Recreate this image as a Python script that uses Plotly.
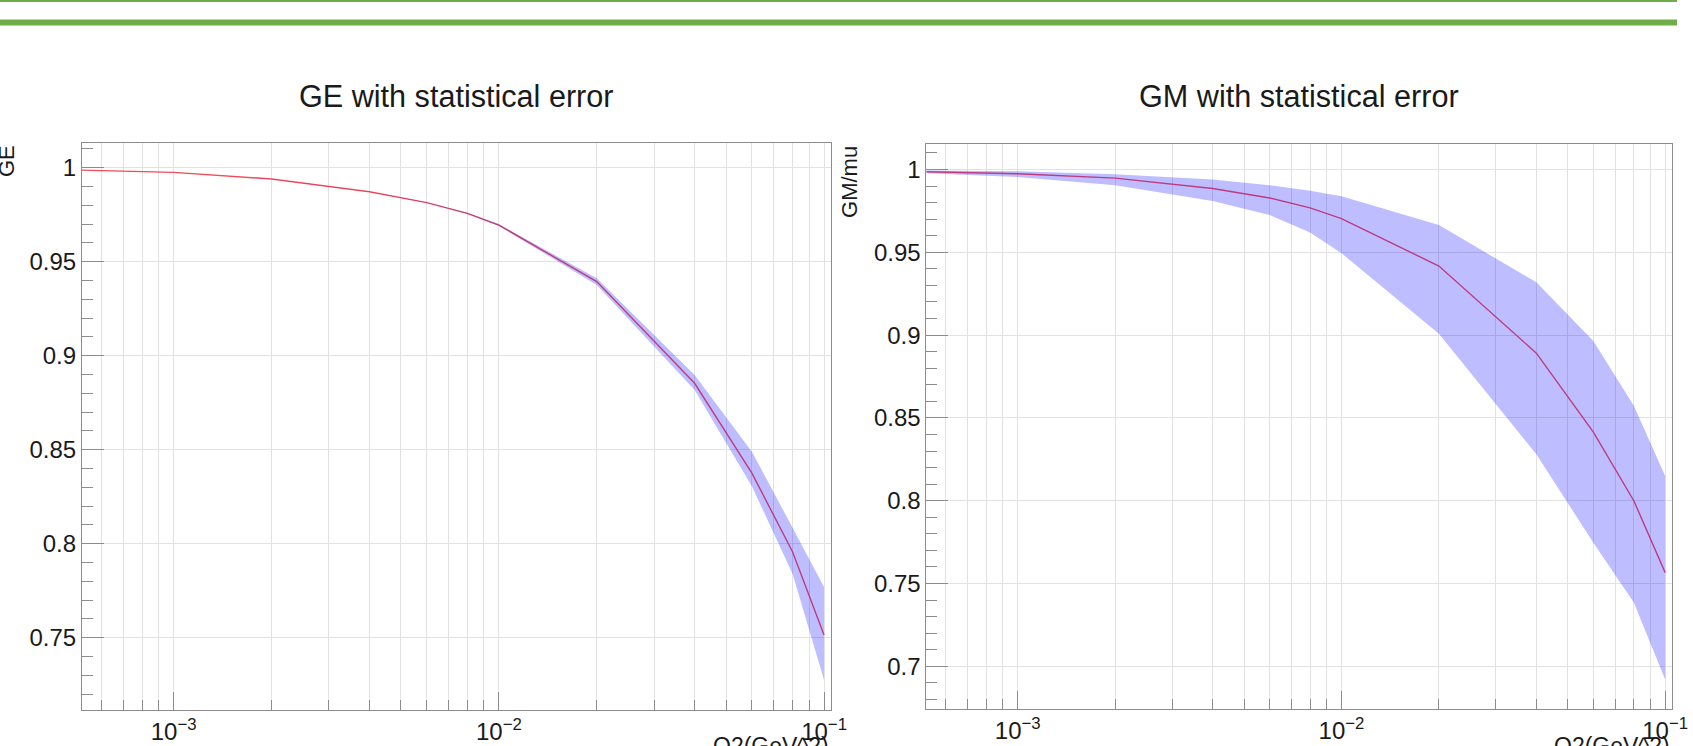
import plotly.graph_objects as go

# ---------------- data ----------------
q2 = [5e-4, 1e-3, 2e-3, 4e-3, 6e-3, 8e-3, 1e-2, 2e-2, 4e-2, 6e-2, 8e-2, 1e-1]

ge = [0.9988, 0.9975, 0.9940, 0.9872, 0.9814, 0.9757, 0.9695, 0.9394, 0.8853, 0.8375, 0.7957, 0.7514]
ge_up = [0.9989, 0.9976, 0.9941, 0.9873, 0.9816, 0.9760, 0.9700, 0.9412, 0.8897, 0.8489, 0.8085, 0.7770]
ge_lo = [0.9987, 0.9974, 0.9939, 0.9871, 0.9812, 0.9754, 0.9690, 0.9376, 0.8817, 0.8305, 0.7840, 0.7275]

gm = [0.9987, 0.9974, 0.9948, 0.9885, 0.9828, 0.9768, 0.9703, 0.9417, 0.8891, 0.8414, 0.8000, 0.7566]
gm_up = [0.9995, 0.9990, 0.9972, 0.9940, 0.9905, 0.9872, 0.9839, 0.9665, 0.9319, 0.8965, 0.8573, 0.8149]
gm_lo = [0.9978, 0.9955, 0.9905, 0.9810, 0.9725, 0.9620, 0.9495, 0.9008, 0.8281, 0.7746, 0.7386, 0.6920]

x_tickvals = [1e-3, 1e-2, 1e-1]
x_ticktext = ["10<sup>−3</sup>", "10<sup>−2</sup>", "10<sup>−1</sup>"]
ge_tickvals = [0.75, 0.8, 0.85, 0.9, 0.95, 1.0]
ge_ticktext = ["0.75", "0.8", "0.85", "0.9", "0.95", "1"]
gm_tickvals = [0.7, 0.75, 0.8, 0.85, 0.9, 0.95, 1.0]
gm_ticktext = ["0.7", "0.75", "0.8", "0.85", "0.9", "0.95", "1"]

titles = ["GE with statistical error", "GM with statistical error"]
ytitles = ["GE", "GM/mu"]
xtitle = "Q2(GeV^2)"

# ---------------- style ----------------
W, H = 1693, 746
WX = 1678.0  # effective horizontal extent used for paper fractions
FONT = "Liberation Sans, Arial, Helvetica, sans-serif"
LINE_COLOR = "#ff5252"
BAND_COLOR = "rgba(0,0,255,0.26)"
GRID = "#e2e2e2"
FRAME = "#8c8c8c"
TXT = "#1a1a1a"
GREEN = "#70AD47"

fig = go.Figure()

def add_panel(xa, ya, y, up, lo):
    fig.add_trace(go.Scatter(x=q2, y=y, mode="lines", xaxis=xa, yaxis=ya,
                             line=dict(color=LINE_COLOR, width=1.4),
                             hoverinfo="skip", showlegend=False))
    fig.add_trace(go.Scatter(x=q2 + q2[::-1], y=up + lo[::-1], mode="lines",
                             xaxis=xa, yaxis=ya, fill="toself",
                             fillcolor=BAND_COLOR, line=dict(width=0),
                             hoverinfo="skip", showlegend=False))

add_panel("x", "y", ge, ge_up, ge_lo)
add_panel("x2", "y2", gm, gm_up, gm_lo)

def xaxis_cfg(domain, anchor):
    return dict(domain=domain, anchor=anchor, type="log", range=[-3.282, -0.978],
                tickmode="array", tickvals=x_tickvals, ticktext=x_ticktext,
                ticks="inside", ticklen=18, tickcolor=FRAME, tickwidth=1,
                showline=True, linecolor=FRAME, linewidth=1, mirror=True,
                showgrid=True, gridcolor=GRID, gridwidth=1,
                tickfont=dict(family=FONT, size=24, color=TXT),
                minor=dict(dtick="D1", ticks="inside", ticklen=10, tickcolor=FRAME,
                           showgrid=True, gridcolor=GRID, gridwidth=1),
                zeroline=False, fixedrange=True)

def yaxis_cfg(domain, anchor, rng, tv, tt):
    return dict(domain=domain, anchor=anchor, range=rng,
                tickmode="array", tickvals=tv, ticktext=tt,
                ticks="inside", ticklen=22, tickcolor=FRAME, tickwidth=1,
                showline=True, linecolor=FRAME, linewidth=1, mirror=True,
                showgrid=True, gridcolor=GRID, gridwidth=1,
                tickfont=dict(family=FONT, size=24, color=TXT),
                minor=dict(dtick=0.01, ticks="inside", ticklen=11, tickcolor=FRAME,
                           showgrid=False),
                zeroline=False, fixedrange=True)

lx = [82 / WX, 831.7 / WX]
rx = [927 / WX, 1673.3 / WX]
ly = [1 - 710 / H, 1 - 142.7 / H]
ry = [1 - 709.4 / H, 1 - 144 / H]

fig.update_layout(
    width=W, height=H,
    margin=dict(l=0, r=0, t=0, b=0),
    paper_bgcolor="white", plot_bgcolor="white",
    xaxis=xaxis_cfg(lx, "y"),
    yaxis=yaxis_cfg(ly, "x", [0.7115, 1.0133], ge_tickvals, ge_ticktext),
    xaxis2=xaxis_cfg(rx, "y2"),
    yaxis2=yaxis_cfg(ry, "x2", [0.6740, 1.0154], gm_tickvals, gm_ticktext),
    showlegend=False,
)

ann = []
for t, dom in zip(titles, [lx, rx]):
    ann.append(dict(text=t, x=(dom[0] + dom[1]) / 2, y=1 - 96 / H, xref="paper", yref="paper",
                    xanchor="center", yanchor="middle", showarrow=False,
                    font=dict(family=FONT, size=30.6, color=TXT)))
ann.append(dict(text=ytitles[0], x=21 / WX, y=1 - 142.5 / H, xref="paper", yref="paper",
                xanchor="right", yanchor="top", textangle=-90, showarrow=False,
                font=dict(family=FONT, size=22, color=TXT)))
ann.append(dict(text=ytitles[1], x=864 / WX, y=1 - 144 / H, xref="paper", yref="paper",
                xanchor="right", yanchor="top", textangle=-90, showarrow=False,
                font=dict(family=FONT, size=22, color=TXT)))
for dom in [lx, rx]:
    ann.append(dict(text=xtitle, x=dom[1], y=1 - 731 / H, xref="paper", yref="paper",
                    xanchor="right", yanchor="top", showarrow=False,
                    font=dict(family=FONT, size=23, color=TXT)))
fig.update_layout(annotations=ann)

fig.add_shape(type="rect", xref="paper", yref="paper", x0=0, x1=1,
              y0=1 - 2 / H, y1=1, line=dict(width=0), fillcolor=GREEN, layer="above")
fig.add_shape(type="rect", xref="paper", yref="paper", x0=0, x1=1,
              y0=1 - 25.5 / H, y1=1 - 19.5 / H, line=dict(width=0), fillcolor=GREEN, layer="above")

fig.write_html("out.html")
